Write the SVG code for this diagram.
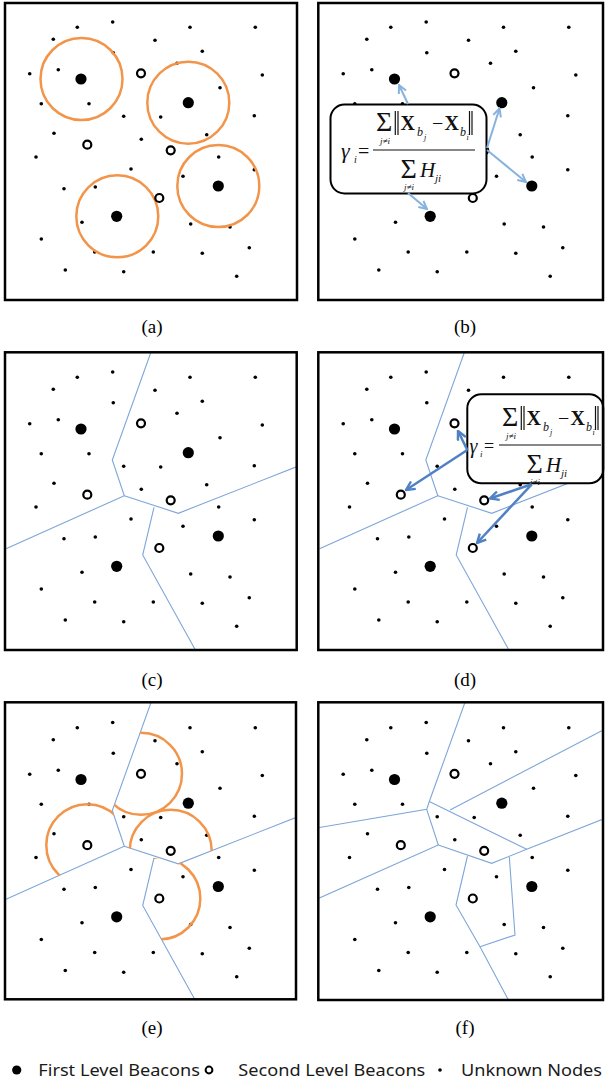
<svg xmlns="http://www.w3.org/2000/svg" xmlns:xlink="http://www.w3.org/1999/xlink" width="605" height="1086" viewBox="0 0 605 1086">
<style>
.frame{fill:none;stroke:#000;stroke-width:2.5}
.u{fill:#000}
.b1{fill:#000}
.s2{fill:#fff;stroke:#000;stroke-width:2.2}
.vor{fill:none;stroke:#7EA6D8;stroke-width:1.1}
.orng{fill:none;stroke:#F2954A;stroke-width:2.5}
.box{fill:#fff;stroke:#000;stroke-width:2}
.cap{font-family:"Liberation Serif","DejaVu Serif",serif;font-size:19px;fill:#000;text-anchor:middle}
.leg{font-family:"Noto Sans","Open Sans","DejaVu Sans",sans-serif;font-size:17px;fill:#1a1a1a}
.fm{font-family:"Liberation Serif","DejaVu Serif",serif;fill:#111}
.it{font-style:italic}
.bd{font-weight:bold}
.bar{stroke:#111;stroke-width:1.2}
.arL{fill:none;stroke:#86B2E0;stroke-width:2}
.arD{fill:none;stroke:#4F81C4;stroke-width:2.5}
</style>
<defs>
<marker id="mL" viewBox="0 0 10 10" refX="9" refY="5" markerWidth="10" markerHeight="10" markerUnits="userSpaceOnUse" orient="auto"><path d="M1,1 L9,5 L1,9" fill="none" stroke="#86B2E0" stroke-width="2"/></marker>
<marker id="mD" viewBox="0 0 10 10" refX="9" refY="5" markerWidth="11" markerHeight="11" markerUnits="userSpaceOnUse" orient="auto"><path d="M1,1 L9,5 L1,9" fill="none" stroke="#4F81C4" stroke-width="2.2"/></marker>
<clipPath id="clipL"><rect x="5" y="2.5" width="292" height="297.5"/></clipPath>
<clipPath id="clipR"><rect x="4.8" y="2.5" width="284.7" height="297.5"/></clipPath>
<clipPath id="cellTR"><polygon points="151,3 297,3 296.7,116.7 178.3,163.3 154,157.3 124.3,145.7 112.3,110"/></clipPath>
<clipPath id="cellTL"><polygon points="5,3 151,3 112.3,110 124.3,145.7 6.7,198.3 5,198.3"/></clipPath>
<clipPath id="cellBR"><polygon points="154,157.3 178.3,163.3 296.7,116.7 297,300 195,299 142.7,205"/></clipPath>
<g id="U">
<circle class="u" cx="77.3" cy="27.3" r="1.8"/><circle class="u" cx="112.7" cy="22" r="1.8"/><circle class="u" cx="190" cy="27.3" r="1.8"/><circle class="u" cx="255.3" cy="27.3" r="1.8"/>
<circle class="u" cx="53.3" cy="39.3" r="1.8"/><circle class="u" cx="155" cy="40.3" r="1.8"/><circle class="u" cx="113.3" cy="52.7" r="1.8"/><circle class="u" cx="202.3" cy="51.3" r="1.8"/>
<circle class="u" cx="29.7" cy="73.7" r="1.8"/><circle class="u" cx="58.3" cy="69.7" r="1.8"/><circle class="u" cx="177" cy="63.3" r="1.8"/><circle class="u" cx="262.3" cy="75" r="1.8"/>
<circle class="u" cx="220" cy="87.7" r="1.8"/><circle class="u" cx="41.3" cy="103.7" r="1.8"/><circle class="u" cx="89" cy="103.7" r="1.8"/><circle class="u" cx="123.7" cy="116.3" r="1.8"/>
<circle class="u" cx="160.7" cy="117" r="1.8"/><circle class="u" cx="254.3" cy="115.7" r="1.8"/><circle class="u" cx="54" cy="133.3" r="1.8"/><circle class="u" cx="141.3" cy="139.3" r="1.8"/>
<circle class="u" cx="206.7" cy="134.7" r="1.8"/><circle class="u" cx="36" cy="157" r="1.8"/><circle class="u" cx="218.7" cy="157" r="1.8"/><circle class="u" cx="131" cy="169" r="1.8"/>
<circle class="u" cx="183" cy="176.3" r="1.8"/><circle class="u" cx="254.3" cy="169.7" r="1.8"/><circle class="u" cx="64" cy="188.7" r="1.8"/><circle class="u" cx="95.3" cy="187" r="1.8"/>
<circle class="u" cx="82" cy="222.3" r="1.8"/><circle class="u" cx="190.7" cy="224" r="1.8"/><circle class="u" cx="230" cy="227" r="1.8"/><circle class="u" cx="41.3" cy="239" r="1.8"/>
<circle class="u" cx="94.7" cy="252" r="1.8"/><circle class="u" cx="153.3" cy="252" r="1.8"/><circle class="u" cx="202.3" cy="253.3" r="1.8"/><circle class="u" cx="249.3" cy="247.7" r="1.8"/>
<circle class="u" cx="65.3" cy="270" r="1.8"/><circle class="u" cx="123.7" cy="271.7" r="1.8"/><circle class="u" cx="236.7" cy="276.3" r="1.8"/>
</g>
<g id="B1">
<circle class="b1" cx="81" cy="79" r="5.6"/><circle class="b1" cx="188.3" cy="102.7" r="5.6"/><circle class="b1" cx="218.3" cy="186" r="5.6"/><circle class="b1" cx="116.7" cy="216.3" r="5.6"/>
</g>
<g id="S2">
<circle class="s2" cx="141" cy="73.3" r="4"/><circle class="s2" cx="87.3" cy="144.7" r="4"/><circle class="s2" cx="170.7" cy="150.3" r="4"/><circle class="s2" cx="159.3" cy="198" r="4"/>
</g>
<g id="V1">
<polyline class="vor" points="151,2 112.3,110 124.3,145.7 6,198.8"/>
<polyline class="vor" points="124.3,145.7 178.3,163.3 297,116.6"/>
<polyline class="vor" points="154,157.3 142.7,205 195.4,300"/>
</g>
<g id="V2">
<polyline class="vor" points="151.5,1.8 115.8,101 113.2,108.8 4,127.4"/>
<polyline class="vor" points="115.8,101 213.2,148.8"/>
<polyline class="vor" points="113.2,108.8 124.8,144.5 4,198.3"/>
<polyline class="vor" points="124.8,144.5 178.2,162.8 213.2,148.8 292,117.6"/>
<polyline class="vor" points="136.5,109.5 292,28.2"/>
<polyline class="vor" points="154,155.5 142.5,204.5 166.5,246.2 195.2,300"/>
<polyline class="vor" points="166.5,246.2 201.5,234.5 195.8,156.2"/>
</g>
<g id="F">
<text class="fm bd" x="400.5" y="130" font-size="20">X</text>
<text class="fm it" x="417" y="136" font-size="12">b</text>
<text class="fm it" x="424" y="140" font-size="8">j</text>
<text class="fm" x="432" y="130" font-size="20">−</text>
<text class="fm bd" x="444.5" y="130" font-size="20">X</text>
<text class="fm it" x="460" y="136" font-size="12">b</text>
<text class="fm it" x="466.5" y="140" font-size="8">i</text>
<line class="bar" x1="395.3" y1="111" x2="395.3" y2="135"/><line class="bar" x1="398" y1="111" x2="398" y2="135"/>
<line class="bar" x1="469.5" y1="111" x2="469.5" y2="135"/><line class="bar" x1="472" y1="111" x2="472" y2="135"/>
<text class="fm" x="376" y="131" font-size="28">Σ</text>
<text class="fm it" x="380" y="144" font-size="9">j≠i</text>
<line class="bar" x1="373" y1="150" x2="475" y2="150"/>
<text class="fm" x="400.5" y="177.5" font-size="28">Σ</text>
<text class="fm it" x="420" y="177" font-size="21">H</text>
<text class="fm it" x="435" y="182" font-size="11">ji</text>
<text class="fm it" x="404" y="190" font-size="9">j≠i</text>
</g>
</defs>

<!-- panel (a) -->
<g id="panel-a">
<g clip-path="url(#clipL)">
<use xlink:href="#U"/>
<g id="orange-a">
<circle class="orng" cx="81.5" cy="79" r="41"/>
<circle class="orng" cx="188.3" cy="102.7" r="41"/>
<circle class="orng" cx="218.3" cy="186" r="41"/>
<circle class="orng" cx="117.3" cy="216.3" r="41"/>
</g>
<use xlink:href="#B1"/>
<use xlink:href="#S2"/>
</g>
<rect class="frame" x="5" y="3" width="292" height="297"/>
<text class="cap" x="152" y="333">(a)</text>
</g>

<!-- panel (b) -->
<g id="panel-b">
<g transform="translate(313.5,0)" clip-path="url(#clipR)">
<use xlink:href="#U"/>
<use xlink:href="#B1"/>
<use xlink:href="#S2"/>
</g>
<g id="formula-box-b">
<rect class="box" x="330.5" y="104.5" width="156" height="89" rx="14"/>
<text class="fm it" x="341" y="158" font-size="22">γ</text>
<text class="fm it" x="354" y="163" font-size="10">i</text>
<text class="fm" x="358" y="158" font-size="20">=</text>
<use xlink:href="#F"/>
</g>
<g id="connectors-b">
<line class="arL" x1="408" y1="104" x2="399" y2="85" marker-end="url(#mL)"/>
<line class="arL" x1="487" y1="148" x2="499.5" y2="108.5" marker-end="url(#mL)"/>
<line class="arL" x1="487" y1="150" x2="526" y2="182" marker-end="url(#mL)"/>
<line class="arL" x1="408" y1="193" x2="427" y2="209" marker-end="url(#mL)"/>
</g>
<rect class="frame" x="318.3" y="3" width="284.7" height="297"/>
<text class="cap" x="465" y="333">(b)</text>
</g>

<!-- panel (c) -->
<g id="panel-c">
<g transform="translate(0,350)" clip-path="url(#clipL)">
<use xlink:href="#V1"/>
<use xlink:href="#U"/>
<use xlink:href="#B1"/>
<use xlink:href="#S2"/>
</g>
<rect class="frame" x="5" y="352.3" width="291.7" height="297.7"/>
<text class="cap" x="152" y="686">(c)</text>
</g>

<!-- panel (d) -->
<g id="panel-d">
<g transform="translate(313.5,350)" clip-path="url(#clipR)">
<use xlink:href="#V1"/>
<use xlink:href="#U"/>
<use xlink:href="#B1"/>
<use xlink:href="#S2"/>
</g>
<g id="formula-box-d">
<rect class="box" x="467.3" y="394.3" width="136" height="89" rx="14"/>
<text class="fm it" x="469.5" y="453" font-size="20">γ</text>
<text class="fm it" x="480" y="457" font-size="9">i</text>
<text class="fm" x="484" y="452" font-size="18">=</text>
<use xlink:href="#F" transform="translate(126,295)"/>
</g>
<g id="connectors-d">
<line class="arD" x1="467.3" y1="450" x2="458" y2="431" marker-end="url(#mD)"/>
<line class="arD" x1="467.3" y1="450" x2="406" y2="490" marker-end="url(#mD)"/>
<line class="arD" x1="531.7" y1="484.3" x2="490" y2="498.5" marker-end="url(#mD)"/>
<line class="arD" x1="531.7" y1="484.3" x2="477" y2="543" marker-end="url(#mD)"/>
</g>
<rect class="frame" x="318.3" y="352.3" width="284.7" height="297.7"/>
<text class="cap" x="465" y="686">(d)</text>
</g>

<!-- panel (e) -->
<g id="panel-e">
<g transform="translate(0,700.5)" clip-path="url(#clipL)">
<use xlink:href="#V1"/>
<use xlink:href="#U"/>
<g id="arcs-e">
<circle class="orng" cx="141" cy="73.3" r="41" clip-path="url(#cellTR)"/>
<circle class="orng" cx="87.3" cy="144.7" r="41" clip-path="url(#cellTL)"/>
<circle class="orng" cx="170.7" cy="150.3" r="41" clip-path="url(#cellTR)"/>
<circle class="orng" cx="159.3" cy="198" r="41" clip-path="url(#cellBR)"/>
</g>
<use xlink:href="#B1"/>
<use xlink:href="#S2"/>
</g>
<rect class="frame" x="5" y="702.3" width="291" height="297"/>
<text class="cap" x="152" y="1034">(e)</text>
</g>

<!-- panel (f) -->
<g id="panel-f">
<g transform="translate(313.5,700.5)" clip-path="url(#clipR)">
<use xlink:href="#V2"/>
<use xlink:href="#U"/>
<use xlink:href="#B1"/>
<use xlink:href="#S2"/>
</g>
<rect class="frame" x="318.3" y="702.3" width="284.7" height="297.7"/>
<text class="cap" x="465" y="1034">(f)</text>
</g>

<!-- legend -->
<g id="legend">
<circle cx="16.7" cy="1070" r="4.6" fill="#000"/>
<text class="leg" x="38.3" y="1076" textLength="161.7" lengthAdjust="spacingAndGlyphs">First Level Beacons</text>
<circle cx="209" cy="1070" r="3.4" fill="none" stroke="#000" stroke-width="2"/>
<text class="leg" x="238.3" y="1076" textLength="187" lengthAdjust="spacingAndGlyphs">Second Level Beacons</text>
<circle cx="440" cy="1070" r="1.8" fill="#000"/>
<text class="leg" x="461" y="1076" textLength="141" lengthAdjust="spacingAndGlyphs">Unknown Nodes</text>
</g>
</svg>
